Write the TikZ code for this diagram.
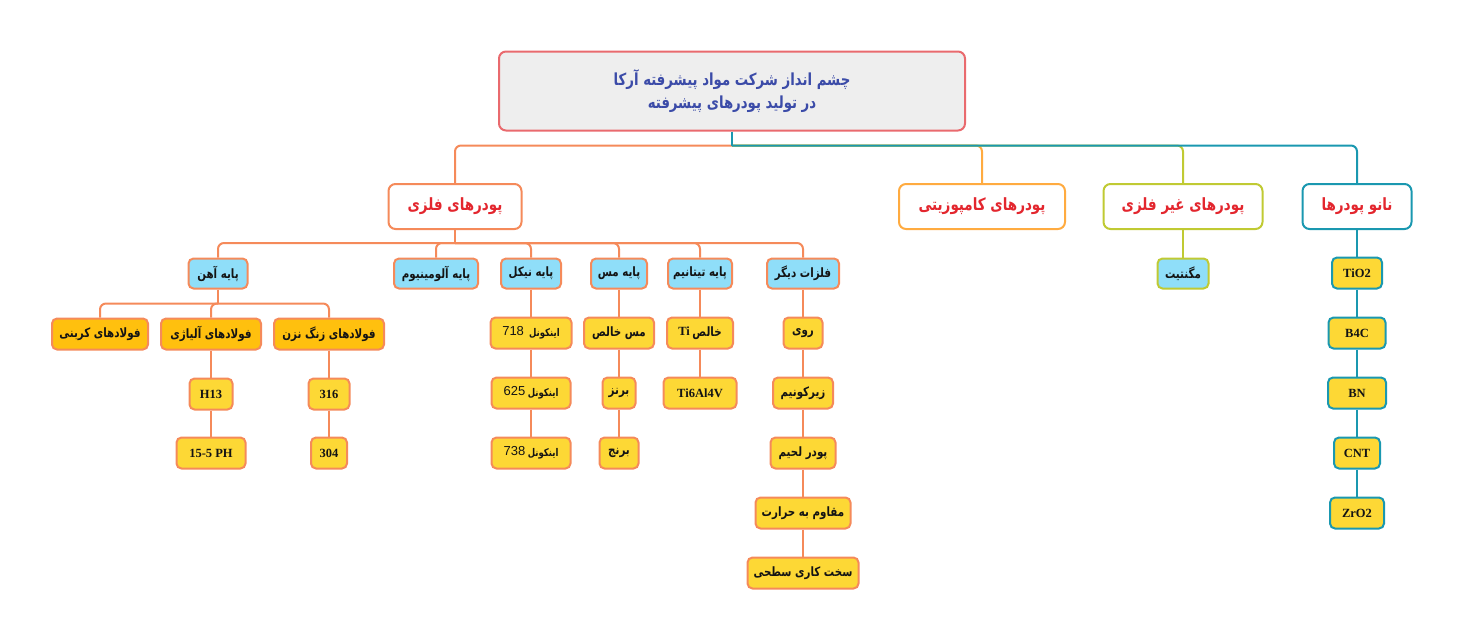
\documentclass[tikz,border=0pt]{standalone}
\usepackage{fontspec}
\usepackage{graphicx}
\setmainfont{Liberation Serif}
\newfontfamily\numfont{Liberation Sans}
\newfontfamily\farsi[Script=Arabic]{DejaVu Sans}
\TeXXeTstate=1
\newcommand\pers[1]{\raisebox{-1.3pt}{\scalebox{1}[1.25]{\farsi\beginR #1\endR}}}
\definecolor{rootborder}{HTML}{E96A6E}
\definecolor{rootfill}{HTML}{EEEEEE}
\definecolor{roottext}{HTML}{3B4BA8}
\definecolor{orangeln}{HTML}{F58A5A}
\definecolor{redtext}{HTML}{E3262E}
\definecolor{compc}{HTML}{FFAB40}
\definecolor{limec}{HTML}{C0CA33}
\definecolor{tealc}{HTML}{1A98B0}
\definecolor{bluefill}{HTML}{8FDEF9}
\definecolor{yellowfill}{HTML}{FDD835}
\definecolor{amberfill}{HTML}{FFC00E}
\definecolor{darktext}{HTML}{141414}
\begin{document}
\begin{tikzpicture}[x=1pt,y=-1pt,
  box/.style={draw, line width=2pt, rounded corners=5pt, inner sep=0pt, align=center, text=darktext},
  rootbox/.style={box, draw=rootborder, fill=rootfill, text=roottext, font=\fontsize{13.3}{23}\selectfont\bfseries, rounded corners=7pt},
  lvlone/.style={box, fill=white, text=redtext, minimum height=45pt, rounded corners=7pt, font=\fontsize{13.5}{15}\selectfont\bfseries},
  bluebox/.style={box, draw=orangeln, fill=bluefill, minimum height=30pt, font=\fontsize{10.3}{12}\selectfont\bfseries},
  amberbox/.style={box, draw=orangeln, fill=amberfill, minimum height=31pt, font=\fontsize{10.3}{12}\selectfont\bfseries},
  yellowbox/.style={box, draw=orangeln, fill=yellowfill, minimum height=31pt, font=\fontsize{10.3}{12}\selectfont\bfseries},
  latin/.style={font=\fontsize{12.5}{14}\selectfont\bfseries},
  nanobox/.style={yellowbox, draw=tealc, latin},
  conn/.style={line width=2pt, rounded corners=6pt, draw=orangeln},
]
\useasboundingbox (0,0) rectangle (1463,640);

% root
\node[rootbox, minimum width=466pt, minimum height=79pt] (root) at (732,91)
  {\pers{چشم انداز شرکت مواد پیشرفته آرکا}\\\pers{در تولید پودرهای پیشرفته}};

% level 1
\node[lvlone, draw=orangeln, minimum width=133pt] (metal) at (455,206.5) {\pers{پودرهای فلزی}};
\node[lvlone, draw=compc, minimum width=166pt] (comp) at (982,206.5) {\pers{پودرهای کامپوزیتی}};
\node[lvlone, draw=limec, minimum width=159pt] (nonm) at (1183,206.5) {\pers{پودرهای غیر فلزی}};
\node[lvlone, draw=tealc, minimum width=109pt] (nano) at (1357,206.5) {\pers{نانو پودرها}};

% level 2 metal
\node[bluebox, minimum width=59pt] (iron) at (218,273.5) {\pers{پایه آهن}};
\node[bluebox, minimum width=84pt] (alu) at (436,273.5) {\pers{پایه آلومینیوم}};
\node[bluebox, minimum width=60pt] (ni) at (531,273.5) {\pers{پایه نیکل}};
\node[bluebox, minimum width=56pt] (cu) at (619,273.5) {\pers{پایه مس}};
\node[bluebox, minimum width=64pt] (ti) at (700,273.5) {\pers{پایه تیتانیم}};
\node[bluebox, minimum width=72pt] (oth) at (803,273.5) {\pers{فلزات دیگر}};
\node[bluebox, draw=limec, minimum width=51pt] (mag) at (1183,273.5) {\pers{مگنتیت}};

% iron children
\node[amberbox, minimum width=96pt] (carbon) at (100,334) {\pers{فولادهای کربنی}};
\node[amberbox, minimum width=100pt] (alloy) at (211,334) {\pers{فولادهای آلیاژی}};
\node[amberbox, minimum width=110pt] (stain) at (329,334) {\pers{فولادهای زنگ نزن}};
\node[yellowbox, latin, minimum width=43pt] (h13) at (211,394) {H13};
\node[yellowbox, latin, minimum width=69pt] (ph) at (211,453) {15-5 PH};
\node[yellowbox, latin, minimum width=41pt] (s316) at (329,394) {316};
\node[yellowbox, latin, minimum width=36pt] (s304) at (329,453) {304};

% nickel
\node[yellowbox, minimum width=81pt] (in718) at (531,333) {{\numfont\fontsize{13}{14}\selectfont\mdseries 718}\ \ {\fontsize{8.5}{10}\selectfont\pers{اینکونل}}};
\node[yellowbox, minimum width=79pt] (in625) at (531,393) {{\numfont\fontsize{13}{14}\selectfont\mdseries 625}\ {\fontsize{8.5}{10}\selectfont\pers{اینکونل}}};
\node[yellowbox, minimum width=79pt] (in738) at (531,453) {{\numfont\fontsize{13}{14}\selectfont\mdseries 738}\ {\fontsize{8.5}{10}\selectfont\pers{اینکونل}}};

% copper
\node[yellowbox, minimum width=70pt] (cupure) at (619,333) {\pers{مس خالص}};
\node[yellowbox, minimum width=33pt] (bronze) at (619,393) {\pers{برنز}};
\node[yellowbox, minimum width=39pt] (brass) at (619,453) {\pers{برنج}};

% titanium
\node[yellowbox, minimum width=66pt] (tipure) at (700,333) {{\fontsize{12.5}{14}\selectfont\bfseries Ti}\ \pers{خالص}};
\node[yellowbox, latin, minimum width=73pt] (ti64) at (700,393) {Ti6Al4V};

% others
\node[yellowbox, minimum width=39pt] (zn) at (803,333) {\pers{روی}};
\node[yellowbox, minimum width=60pt] (zr) at (803,393) {\pers{زیرکونیم}};
\node[yellowbox, minimum width=65pt] (solder) at (803,453) {\pers{پودر لحیم}};
\node[yellowbox, minimum width=95pt] (heat) at (803,513) {\pers{مقاوم به حرارت}};
\node[yellowbox, minimum width=111pt] (hard) at (803,573) {\pers{سخت کاری سطحی}};

% nano
\node[nanobox, minimum width=50pt] (tio2) at (1357,273) {TiO2};
\node[nanobox, minimum width=57pt] (b4c) at (1357,333) {B4C};
\node[nanobox, minimum width=58pt] (bn) at (1357,393) {BN};
\node[nanobox, minimum width=46pt] (cnt) at (1357,453) {CNT};
\node[nanobox, minimum width=54pt] (zro2) at (1357,513) {ZrO2};

% root connectors
\path (root.south) ++(0,14) coordinate (rj);
\draw[conn] (rj) -| (metal.north);
\draw[conn, draw=compc] (rj) -| (comp.north);
\draw[conn, draw=limec] (rj) -| (nonm.north);
\draw[conn, draw=tealc] (rj) -| (nano.north);
\draw[conn, draw=tealc, rounded corners=0pt] (root.south) -- (rj);

% metal connectors
\path (metal.south) ++(0,13) coordinate (mj);
\draw[conn] (metal.south) -- (mj);
\foreach \c in {iron,alu,ni,cu,ti,oth} \draw[conn] (mj) -| (\c.north);

% iron connectors
\path (iron.south) ++(0,14) coordinate (fj);
\draw[conn] (iron.south) -- (fj);
\foreach \c in {carbon,alloy,stain} \draw[conn] (fj) -| (\c.north);
\draw[conn] (alloy.south) -- (alloy.south |- h13.north);
\draw[conn] (h13.south) -- (h13.south |- ph.north);
\draw[conn] (stain.south) -- (stain.south |- s316.north);
\draw[conn] (s316.south) -- (s316.south |- s304.north);

% chains
\draw[conn] (ni.south) -- (ni.south |- in718.north);
\draw[conn] (in718.south) -- (in718.south |- in625.north);
\draw[conn] (in625.south) -- (in625.south |- in738.north);
\draw[conn] (cu.south) -- (cu.south |- cupure.north);
\draw[conn] (cupure.south) -- (cupure.south |- bronze.north);
\draw[conn] (bronze.south) -- (bronze.south |- brass.north);
\draw[conn] (ti.south) -- (ti.south |- tipure.north);
\draw[conn] (tipure.south) -- (tipure.south |- ti64.north);
\draw[conn] (oth.south) -- (oth.south |- zn.north);
\draw[conn] (zn.south) -- (zn.south |- zr.north);
\draw[conn] (zr.south) -- (zr.south |- solder.north);
\draw[conn] (solder.south) -- (solder.south |- heat.north);
\draw[conn] (heat.south) -- (heat.south |- hard.north);
\draw[conn, draw=limec] (nonm.south) -- (nonm.south |- mag.north);
\draw[conn, draw=tealc] (nano.south) -- (nano.south |- tio2.north);
\draw[conn, draw=tealc] (tio2.south) -- (tio2.south |- b4c.north);
\draw[conn, draw=tealc] (b4c.south) -- (b4c.south |- bn.north);
\draw[conn, draw=tealc] (bn.south) -- (bn.south |- cnt.north);
\draw[conn, draw=tealc] (cnt.south) -- (cnt.south |- zro2.north);
\end{tikzpicture}
\end{document}
